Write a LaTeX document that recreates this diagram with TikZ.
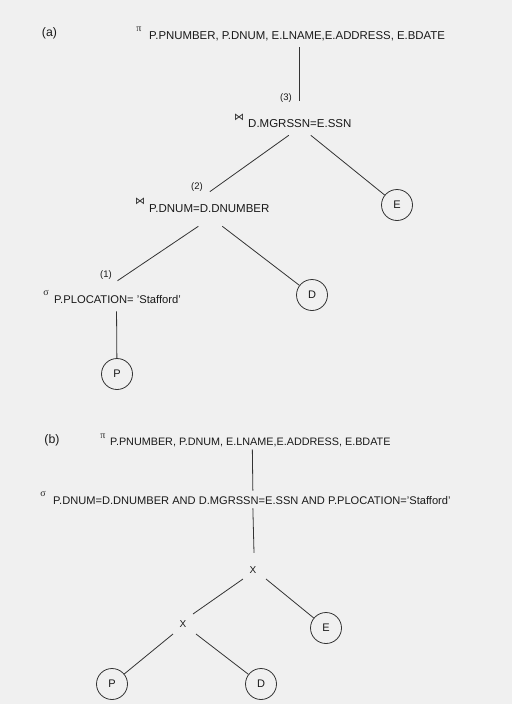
\documentclass[tikz,border=0pt]{standalone}
\usepackage{fontspec}
\setmainfont{Liberation Sans}
\newfontfamily\symfont{DejaVu Sans}
\newfontfamily\grkfont{Liberation Serif}
\usetikzlibrary{calc}
\begin{document}
\begin{tikzpicture}[x=1pt,y=-1pt,
  fs/.style={font=\fontsize{#1}{#1}\selectfont},
  txt/.style={inner sep=0pt, text height=8.2pt, text depth=0pt, anchor=west, text=black!90},
  sym/.style={inner sep=0pt, text=black!85, font=\fontsize{10}{10}\selectfont},
  num/.style={inner sep=0pt, text=black!90, font=\fontsize{9.5}{9.5}\selectfont},
  lbl/.style={inner sep=0pt, text=black!90, font=\fontsize{12.3}{12.3}\selectfont},
  circ/.style={circle, draw=black!80, line width=0.8pt, minimum size=31pt, inner sep=0pt, text=black!90, font=\fontsize{11}{11}\selectfont},
  xop/.style={inner sep=0pt, text height=7pt, text depth=0pt, text=black!90, font=\fontsize{10}{10}\selectfont},
  edge/.style={draw=black!80, line width=0.8pt}]
\fill[black!6] (0,0) rectangle (512,704);
\useasboundingbox (0,0) rectangle (512,704);
% ---- (a)
\node[lbl] (la) at (49.5,33) {(a)};
\node[sym] (piA) at (139,29) {\grkfont π};
\node[txt, fs=11.4] (projA) at (149,35) {P.PNUMBER, P.DNUM, E.LNAME,E.ADDRESS, E.BDATE};
\node[num] (n3) at (286,98) {(3)};
\node[sym] (jA) at (239,117) {\symfont ⋈};
\node[txt, fs=11.5] (joinA) at (248,123) {D.MGRSSN=E.SSN};
\node[num] (n2) at (197,187) {(2)};
\node[sym] (jB) at (140,201) {\symfont ⋈};
\node[txt, fs=11.5] (joinB) at (149,208) {P.DNUM=D.DNUMBER};
\node[circ] (Ea) at (397,205) {E};
\node[num] (n1) at (106,275) {(1)};
\node[sym] (sA) at (46,293) {\grkfont σ};
\node[txt, fs=11.2] (selA) at (54,299) {P.PLOCATION= 'Stafford'};
\node[circ] (Da) at (312,295) {D};
\node[circ] (Pa) at (117,374) {P};
\draw[edge] ($(projA.south)+(2,8)$) -- ++(0,54);
\draw[edge] ($(joinA.south)+(-11,8)$) -- ($(joinB.north)+(0.5,-12)$);
\draw[edge] ($(joinA.south)+(11,8)$) -- (Ea);
\draw[edge] ($(joinB.south)+(-11,14)$) -- ($(selA.north)+(0,-14)$);
\draw[edge] ($(joinB.south)+(13,14)$) -- (Da);
\draw[edge] ($(selA.south)+(-1,8)$) -- (Pa);
% ---- (b)
\node[lbl] (lb) at (52,440) {(b)};
\node[sym] (piB) at (103,436) {\grkfont π};
\node[txt, fs=10.8] (projB) at (110,441) {P.PNUMBER, P.DNUM, E.LNAME,E.ADDRESS, E.BDATE};
\node[sym] (sB) at (43,494) {\grkfont σ};
\node[txt, fs=11.1] (selB) at (53,500) {P.DNUM=D.DNUMBER AND D.MGRSSN=E.SSN AND P.PLOCATION='Stafford'};
\node[xop] (x1) at (253,570) {X};
\node[xop] (x2) at (183,624) {X};
\node[circ] (Eb) at (326,628) {E};
\node[circ] (Pb) at (112,684) {P};
\node[circ] (Db) at (261,684) {D};
\draw[edge] ($(projB.south)+(2,4)$) -- ($(selB.north)+(1,-5)$);
\draw[edge] ($(selB.south)+(1,4)$) -- ($(x1.north)+(1,-13.5)$);
\draw[edge] ($(x1)+(-10,9)$) -- ($(x2)+(10,-10)$);
\draw[edge] ($(x1)+(13,9)$) -- (Eb);
\draw[edge] ($(x2)+(-10,10)$) -- (Pb);
\draw[edge] ($(x2)+(13,10)$) -- (Db);
\end{tikzpicture}
\end{document}
